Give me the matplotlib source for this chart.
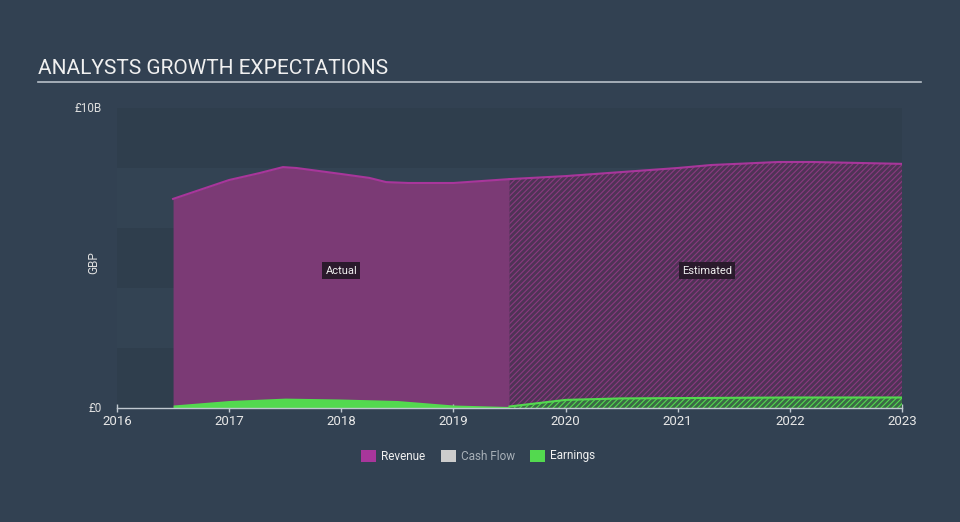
import matplotlib
matplotlib.use("Agg")
import matplotlib.pyplot as plt
import numpy as np

plt.rcParams["font.family"] = ["Roboto", "DejaVu Sans"]
plt.rcParams["hatch.linewidth"] = 0.8

# revenue, GBP billions
rev_actual_x = [2016.5, 2017.0, 2017.27, 2017.48, 2017.6, 2018.0, 2018.25, 2018.4, 2018.6, 2019.0, 2019.5]
rev_actual_y = [6.97, 7.6, 7.83, 8.03, 8.0, 7.8, 7.67, 7.53, 7.5, 7.5, 7.63]
rev_est_x = [2019.5, 2020.0, 2021.0, 2021.3, 2021.9, 2022.2, 2023.1]
rev_est_y = [7.63, 7.73, 8.0, 8.1, 8.2, 8.2, 8.13]

# earnings, GBP billions
earn_actual_x = [2016.5, 2017.0, 2017.5, 2018.0, 2018.5, 2019.0, 2019.5]
earn_actual_y = [0.1, 0.25, 0.33, 0.3, 0.25, 0.1, 0.05]
earn_est_x = [2019.5, 2020.0, 2020.5, 2021.0, 2022.0, 2023.1]
earn_est_y = [0.05, 0.27, 0.32, 0.33, 0.35, 0.35]

year_ticks = [2016, 2017, 2018, 2019, 2020, 2021, 2022, 2023]

bg = "#324152"
fig = plt.figure(figsize=(9.6, 5.22), dpi=100, facecolor=bg)

# title and underline
fig.text(38 / 960, 1 - 68 / 522, "ANALYSTS GROWTH EXPECTATIONS", color="#f0f0f0",
         fontsize=15, va="center", ha="left")
fig.add_artist(plt.Line2D([38 / 960, 921 / 960], [1 - 82 / 522, 1 - 82 / 522],
                          color="#b8c0c8", linewidth=1.2))

ax = fig.add_axes([117 / 960, 114 / 522, (902 - 117) / 960, 300 / 522])
ax.set_facecolor(bg)
ax.set_xlim(2016, 2023.0)
ax.set_ylim(0, 10)

band_cols = ["#2f3e4d", "#334353"]
for i, lo in enumerate(range(0, 10, 2)):
    ax.axhspan(lo, lo + 2, color=band_cols[i % 2], zorder=0, linewidth=0)

purple = "#a8369b"
green = "#53d94f"

# actual revenue
ax.fill_between(rev_actual_x, 0, rev_actual_y, color="#7b3a75", linewidth=0, zorder=1)
ax.plot(rev_actual_x, rev_actual_y, color=purple, linewidth=1.5, zorder=3)
# estimated revenue
ax.fill_between(rev_est_x, 0, rev_est_y, facecolor="#4f3356", edgecolor="#8a3a80",
                hatch="//////", linewidth=0, zorder=1)
ax.plot(rev_est_x, rev_est_y, color=purple, linewidth=1.5, zorder=3)

# actual earnings
ax.fill_between(earn_actual_x, 0, earn_actual_y, color=green, linewidth=0, zorder=2)
# estimated earnings
ax.fill_between(earn_est_x, 0, earn_est_y, facecolor="#3b6a45", edgecolor=green,
                hatch="//////", linewidth=0, zorder=2)
ax.plot(earn_est_x, earn_est_y, color=green, linewidth=1.5, zorder=3)

box = dict(boxstyle="square,pad=0.3", facecolor="#2a1a2c", edgecolor="none")
ax.text(2018.0, 4.58, "Actual", color="#f0f0f0", fontsize=8, ha="center", va="center", bbox=box, zorder=5)
ax.text(2021.26, 4.58, "Estimated", color="#f0f0f0", fontsize=8, ha="center", va="center", bbox=box, zorder=5)

for s in ["top", "right", "left"]:
    ax.spines[s].set_visible(False)
ax.spines["bottom"].set_color("#c0c8d0")
ax.spines["bottom"].set_linewidth(1)

ax.set_xticks(year_ticks)
ax.set_xticklabels([str(y) for y in year_ticks])
ax.tick_params(axis="x", colors="#c0c8d0", labelcolor="#e8e8e8", labelsize=9.5,
               length=6, width=1, direction="inout", pad=2)
ax.set_yticks([])

fig.text(102 / 960, 1 - 108 / 522, "£10B", color="#e0e0e0", fontsize=8.5, ha="right", va="center")
fig.text(102 / 960, 1 - 408 / 522, "£0", color="#e0e0e0", fontsize=8.5, ha="right", va="center")
fig.text(94 / 960, 1 - 263 / 522, "GBP", color="#e0e0e0", fontsize=8.5, ha="center",
         va="center", rotation=90)

# legend
legend_items = [("Revenue", purple, "#f0f0f0"), ("Cash Flow", "#cccccc", "#a8b0b8"),
                ("Earnings", green, "#f0f0f0")]
lx = [361, 441, 530]
for (name, col, tcol), x0 in zip(legend_items, lx):
    fig.add_artist(plt.Rectangle((x0 / 960, 1 - 462 / 522), 15 / 960, 12 / 522,
                                 facecolor=col, edgecolor="none"))
    fig.text((x0 + 20) / 960, 1 - 456 / 522, name, color=tcol, fontsize=8.5,
             ha="left", va="center")

fig.savefig("out.png", dpi=100, facecolor=bg)
